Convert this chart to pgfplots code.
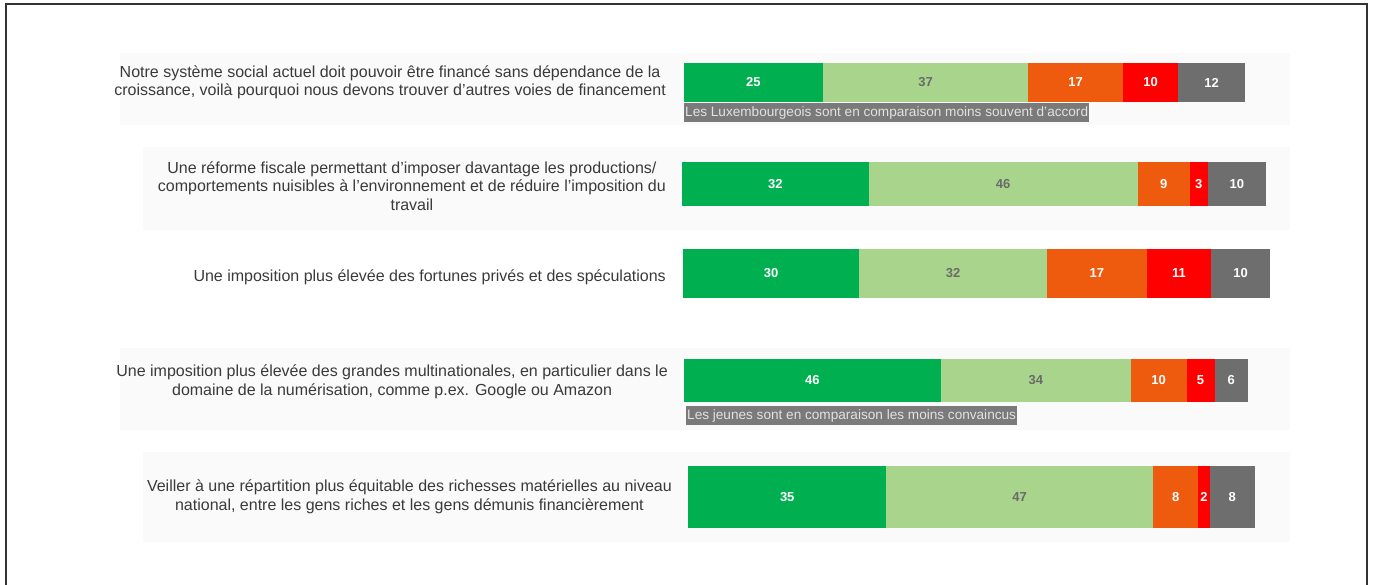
\documentclass[border=0pt]{standalone}
\usepackage{pgfplots}
\pgfplotsset{compat=1.18}
\usepackage{fontspec}
\setmainfont{Liberation Sans}
\definecolor{dg}{HTML}{00B050}
\definecolor{lg}{HTML}{A9D48C}
\definecolor{og}{HTML}{EE5A0E}
\definecolor{rd}{HTML}{FF0000}
\definecolor{gy}{HTML}{6E6E6E}
\definecolor{lgtext}{HTML}{6A6A6A}
\definecolor{labtext}{HTML}{3A3A3A}
\definecolor{annfill}{HTML}{7A7A7A}
\definecolor{anntext}{HTML}{E2E2E2}
\definecolor{panel}{HTML}{FAFAFA}
\pgfplotsset{
  rowbar/.style n args={5}{%
    at={(#1pt,{584pt-#2pt-#4pt})}, anchor=south west,
    width=#3pt, height=#4pt, scale only axis,
    xmin=0, xmax=#5, ymin=-0.5, ymax=0.5,
    hide axis, xbar stacked, bar width=1,
    nodes near coords,
    /pgf/number format/assume math mode=true,
    every node near coord/.style={anchor=center,
      font=\fontsize{13}{13}\selectfont\bfseries},
  },
  sA/.style={fill=dg, draw=none, every node near coord/.append style={text=white}},
  sB/.style={fill=lg, draw=none, every node near coord/.append style={text=lgtext}},
  sC/.style={fill=og, draw=none, every node near coord/.append style={text=white}},
  sD/.style={fill=rd, draw=none, every node near coord/.append style={text=white}},
  sE/.style={fill=gy, draw=none, every node near coord/.append style={text=white}},
}
\newcommand\fivebars[5]{%
  \addplot[sA] coordinates {(#1,0)};
  \addplot[sB] coordinates {(#2,0)};
  \addplot[sC] coordinates {(#3,0)};
  \addplot[sD] coordinates {(#4,0)};
  \addplot[sE] coordinates {(#5,0)};
}
\begin{document}
\begin{tikzpicture}
\useasboundingbox (0,0) rectangle (1373pt,584pt);
% faint panels
\fill[panel] (120pt,{584pt-53pt}) rectangle (1290pt,{584pt-125pt});
\fill[panel] (143pt,{584pt-147pt}) rectangle (1290pt,{584pt-230pt});
\fill[panel] (120pt,{584pt-348pt}) rectangle (1290pt,{584pt-430pt});
\fill[panel] (143pt,{584pt-452pt}) rectangle (1290pt,{584pt-542pt});
% frame
\draw[line width=2pt, black!80] (6pt,-5pt) -- (6pt,579.5pt) -- (1367pt,579.5pt) -- (1367pt,-5pt);

\begin{axis}[rowbar={684}{63}{561}{39}{101}]
\fivebars{25}{37}{17}{10}{12}
\end{axis}
\begin{axis}[rowbar={682}{162}{584}{44}{100}]
\fivebars{32}{46}{9}{3}{10}
\end{axis}
\begin{axis}[rowbar={683}{249}{587}{49}{100}]
\fivebars{30}{32}{17}{11}{10}
\end{axis}
\begin{axis}[rowbar={684}{359}{564}{43}{101}]
\fivebars{46}{34}{10}{5}{6}
\end{axis}
\begin{axis}[rowbar={688}{466}{567}{62}{100}]
\fivebars{35}{47}{8}{2}{8}
\end{axis}

\begin{scope}[every node/.style={anchor=east, align=center, text=labtext,
   font=\fontsize{16}{18.5}\selectfont, inner sep=0pt}]
\node at (666pt,{584pt-82.5pt}) {Notre système social actuel doit pouvoir être financé sans dépendance de la\\croissance, voilà pourquoi nous devons trouver d’autres voies de financement};
\node at (666pt,{584pt-186pt}) {Une réforme fiscale permettant d’imposer davantage les productions/\\comportements nuisibles à l’environnement et de réduire l’imposition du\\travail};
\node at (666pt,{584pt-277pt}) {Une imposition plus élevée des fortunes privés et des spéculations};
\node at (668pt,{584pt-382pt}) {Une imposition plus élevée des grandes multinationales, en particulier dans le\\domaine de la numérisation, comme p.ex. Google ou Amazon};
\node at (672pt,{584pt-497pt}) {Veiller à une répartition plus équitable des richesses matérielles au niveau\\national, entre les gens riches et les gens démunis financièrement};
\end{scope}

\node[anchor=north west, fill=annfill, text=anntext, inner xsep=1pt, inner ysep=3pt,
  font=\fontsize{13.6}{13.6}\selectfont] at (684pt,{584pt-103pt})
  {Les Luxembourgeois sont en comparaison moins souvent d’accord};
\node[anchor=north west, fill=annfill, text=anntext, inner xsep=1pt, inner ysep=3pt,
  font=\fontsize{13.6}{13.6}\selectfont] at (686pt,{584pt-406pt})
  {Les jeunes sont en comparaison les moins convaincus};
\end{tikzpicture}
\end{document}
